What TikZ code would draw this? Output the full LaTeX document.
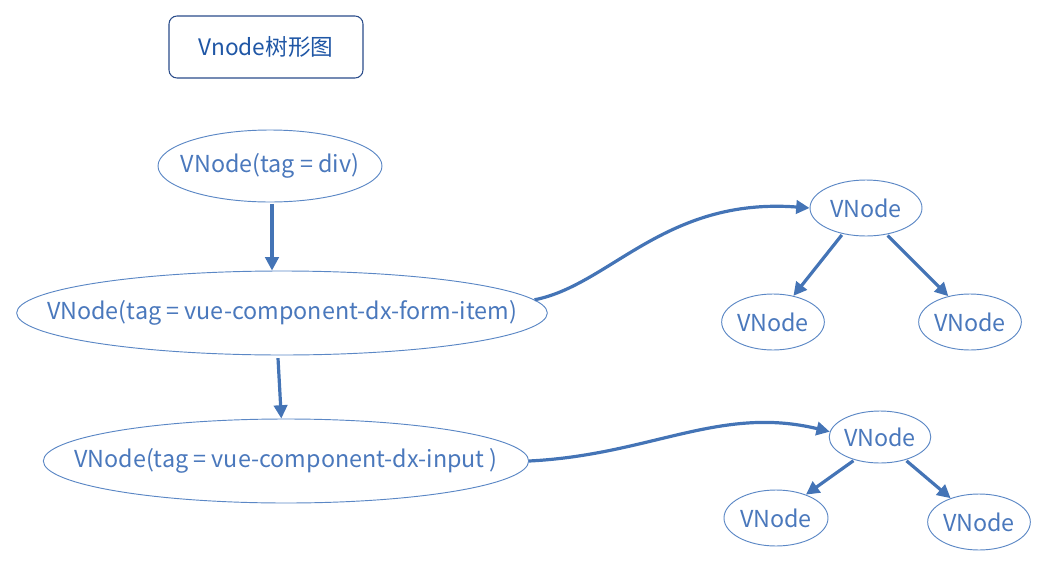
\documentclass[tikz,border=0pt]{standalone}
\usepackage{fontspec}
\setmainfont{Noto Sans CJK SC}
\usetikzlibrary{shapes.geometric,arrows.meta}
\definecolor{nodeblue}{HTML}{4A78BC}
\definecolor{edgeblue}{HTML}{5B87C5}
\definecolor{arrblue}{HTML}{4474B6}
\definecolor{titleblue}{HTML}{1F56A5}
\definecolor{titleborder}{HTML}{2A4C8A}
\tikzset{
  vnode/.style={ellipse, draw=edgeblue, line width=0.7pt, inner sep=0pt,
    text=nodeblue, font=\fontsize{17.5}{20}\selectfont},
  arr/.style={draw=arrblue, line width=2.4pt,
    -{Triangle[length=10pt,width=10pt]}},
  titlebox/.style={draw=titleborder, rounded corners=6pt, line width=0.8pt,
    text=titleblue, font=\fontsize{17}{20}\selectfont,
    minimum width=145.5pt, minimum height=46.5pt, inner sep=0pt}
}
\newcommand{\zw}[1]{\makebox[0pt]{#1}}
\begin{document}
\begin{tikzpicture}[x=0.75pt,y=-0.75pt]
\useasboundingbox (0,0) rectangle (1047,568);
\node[titlebox] (title) at (266,47) {Vnode树形图};

\node[vnode, minimum width=168pt, minimum height=54pt] (div) at (270,166) {\zw{VNode(tag = div)}};
\node[vnode, minimum width=398pt, minimum height=63pt] (form) at (282,313) {\zw{VNode(tag = vue-component-dx-form-item)}};
\node[vnode, minimum width=364pt, minimum height=63pt] (inp) at (286,461) {\zw{VNode(tag = vue-component-dx-input )}};

\node[vnode, minimum width=84pt, minimum height=42pt] (a) at (866,208) {VNode};
\node[vnode, minimum width=77pt, minimum height=42pt] (b) at (773,322) {VNode};
\node[vnode, minimum width=77pt, minimum height=42pt] (c) at (970,322) {VNode};

\node[vnode, minimum width=76pt, minimum height=39pt] (d) at (880,437) {VNode};
\node[vnode, minimum width=78pt, minimum height=42pt] (e) at (776,518) {VNode};
\node[vnode, minimum width=77pt, minimum height=42pt] (f) at (979,522) {VNode};

\draw[arr] ([xshift=1.5pt,yshift=-1pt]div.south) -- ([xshift=1.5pt]div.south |- form.north);
\draw[arr] ([xshift=-3pt,yshift=-2pt]form.south) -- ([xshift=-3.5pt]inp.north);

\draw[arr] (form.3.5) .. controls (610,285) and (665,197) .. (a.west);
\draw[arr] (inp.east) .. controls (650,455) and (720,405) .. (d.174);

\draw[arr, shorten <=1pt] (a.228) -- (b.52);
\draw[arr, shorten <=1pt] (a.308) -- (c.130);
\draw[arr, shorten <=1pt] (d.222) -- (e.38);
\draw[arr, shorten <=1pt] (d.318) -- (f.140);
\end{tikzpicture}
\end{document}
